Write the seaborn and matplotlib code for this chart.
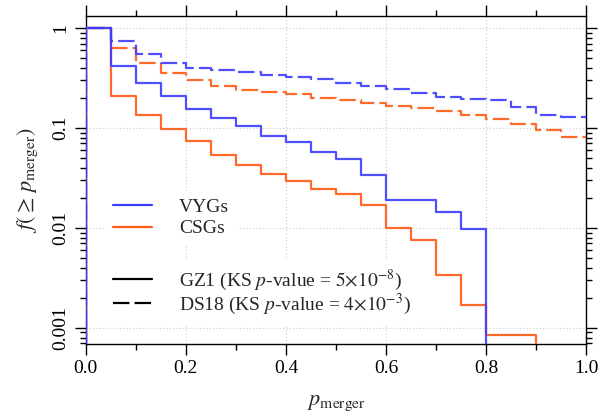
import numpy as np
import pandas as pd
import matplotlib
matplotlib.use("Agg")
import matplotlib.pyplot as plt
from matplotlib.lines import Line2D
from matplotlib.ticker import MultipleLocator, FixedLocator, LogLocator, NullFormatter, FixedFormatter
import seaborn as sns

# ---- data ----
bin_edges = [0.00, 0.05, 0.10, 0.15, 0.20, 0.25, 0.30, 0.35, 0.40, 0.45,
             0.50, 0.55, 0.60, 0.65, 0.70, 0.75, 0.80, 0.85, 0.90, 0.95]
x_end = 1.0

vyg_gz1 = [1.0, 0.42, 0.284, 0.21, 0.156, 0.126, 0.105, 0.0826, 0.0724, 0.058,
           0.0486, 0.034, 0.0192, 0.0192, 0.0145, 0.0097, 0.0, 0.0, 0.0, 0.0]
csg_gz1 = [1.0, 0.209, 0.135, 0.0985, 0.0741, 0.0537, 0.043, 0.0347, 0.0295, 0.0245,
           0.0219, 0.0171, 0.0101, 0.0076, 0.00336, 0.00169, 0.00085, 0.00085, 0.0, 0.0]
vyg_ds18 = [1.0, 0.741, 0.55, 0.45, 0.395, 0.383, 0.366, 0.339, 0.321, 0.307,
            0.28, 0.265, 0.247, 0.222, 0.206, 0.196, 0.191, 0.163, 0.135, 0.13]
csg_ds18 = [1.0, 0.626, 0.443, 0.358, 0.302, 0.263, 0.24, 0.23, 0.217, 0.2,
            0.191, 0.177, 0.166, 0.157, 0.148, 0.135, 0.123, 0.11, 0.0955, 0.082]

samples = ["VYGs", "CSGs"]
catalogs = ["GZ1", "DS18"]
legend_cat = ["GZ1 (KS $p$-value = $5{\\times}10^{-8}$)",
              "DS18 (KS $p$-value = $4{\\times}10^{-3}$)"]
ytick_vals = [0.001, 0.01, 0.1, 1]
ytick_labels = ["0.001", "0.01", "0.1", "1"]

series = {("CSGs", "DS18"): csg_ds18, ("VYGs", "DS18"): vyg_ds18,
          ("CSGs", "GZ1"): csg_gz1, ("VYGs", "GZ1"): vyg_gz1}

rows = []
for (s, c), vals in series.items():
    xs = [bin_edges[0]] + bin_edges + [x_end]
    ys = [0.0] + vals + [vals[-1]]
    for xv, yv in zip(xs, ys):
        rows.append({"p": xv, "f": yv, "sample": s, "catalog": c})
df = pd.DataFrame(rows)

# ---- style ----
sns.set_style("ticks")
plt.rcParams["font.family"] = ["Liberation Serif", "DejaVu Serif"]
plt.rcParams["mathtext.fontset"] = "stix"
plt.rcParams["axes.linewidth"] = 1.0

blue = "#3c3cff"
orange = "#ff5a14"
palette = {"VYGs": blue, "CSGs": orange}
dash_pat = (7.4, 2.3)
lw = 1.6

fig = plt.figure(figsize=(6.01, 4.13), dpi=100)
ax = fig.add_axes([0.1426, 0.167, 0.8329, 0.7943])

sns.lineplot(data=df, x="p", y="f", hue="sample", style="catalog",
             palette=palette, dashes={"GZ1": "", "DS18": dash_pat},
             estimator=None, sort=False, drawstyle="steps-post",
             linewidth=lw, alpha=0.9, legend=False, zorder=3, ax=ax)

ax.set_yscale("log")
ax.set_xlim(0, 1)
ax.set_ylim(0.00069, 1.32)

ax.xaxis.set_major_locator(MultipleLocator(0.2))
ax.xaxis.set_minor_locator(MultipleLocator(0.1))
ax.set_xticklabels([f"{v:.1f}" for v in ax.get_xticks()])
ax.yaxis.set_major_locator(FixedLocator(ytick_vals))
ax.yaxis.set_major_formatter(FixedFormatter(ytick_labels))
ax.yaxis.set_minor_locator(LogLocator(base=10, subs=np.arange(2, 10)))
ax.yaxis.set_minor_formatter(NullFormatter())

ax.tick_params(which="both", direction="out", top=True, right=True, width=1.0, colors="black")
ax.tick_params(which="major", length=8, labelsize=14)
ax.tick_params(axis="x", which="major", pad=3.5)
ax.tick_params(axis="y", which="major", pad=4)
ax.tick_params(which="minor", length=4)
for lab in ax.get_yticklabels():
    lab.set_rotation(90)
    lab.set_va("center")

ax.grid(True, which="major", ls=(0, (1, 2)), color="#cccccc", lw=0.8)
ax.set_axisbelow(True)

ax.set_xlabel("$p_{\\rm merger}$", fontsize=16, labelpad=12)
ax.set_ylabel("$f(\\geq\\, p_{\\rm merger})$", fontsize=16, labelpad=9)

for sp in ax.spines.values():
    sp.set_visible(True)
    sp.set_color("black")

h1 = [Line2D([], [], color=palette[s], lw=lw) for s in samples]
leg1 = ax.legend(h1, samples, loc="upper left", bbox_to_anchor=(0.0386, 0.468),
                 borderaxespad=0, fontsize=14, labelspacing=0.2, handletextpad=1.4,
                 frameon=True, facecolor="white", edgecolor="none", framealpha=1,
                 fancybox=False)
ax.add_artist(leg1)
h2 = [Line2D([], [], color="black", lw=lw, ls="-"),
      Line2D([], [], color="black", lw=lw, dashes=dash_pat)]
leg2 = ax.legend(h2, legend_cat, loc="upper left", bbox_to_anchor=(0.0386, 0.2576),
                 borderaxespad=0, fontsize=14, labelspacing=-0.05, handletextpad=1.4,
                 frameon=True, facecolor="white", edgecolor="none", framealpha=1,
                 fancybox=False)

fig.savefig("out.png", dpi=100)
